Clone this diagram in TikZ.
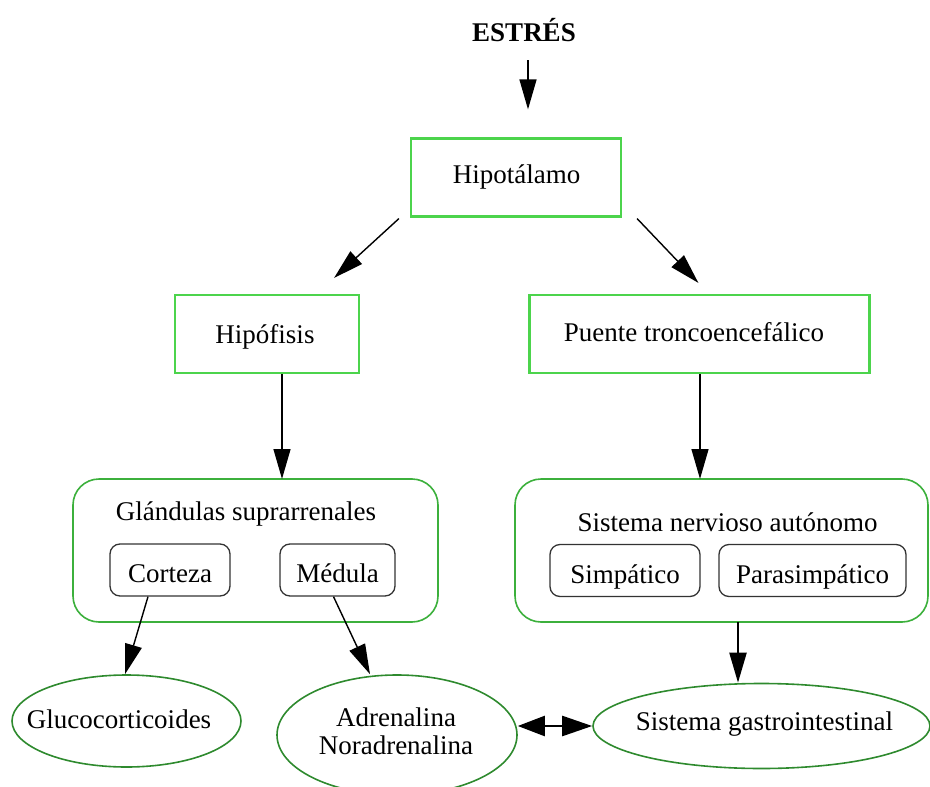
\documentclass[tikz,border=0pt]{standalone}
\usepackage{fontspec}
\setmainfont{Liberation Serif}
\usetikzlibrary{arrows.meta,shapes.geometric}
\definecolor{boxgreen}{HTML}{4CD44C}
\definecolor{groupgreen}{HTML}{3CB03C}
\definecolor{ovalgreen}{HTML}{2E8A2E}
\definecolor{innergray}{HTML}{333333}
\tikzset{
  lbl/.style={font=\fontsize{27}{28}\selectfont},
  squarebox/.style={draw=boxgreen, line width=2.2pt, minimum height=78pt, inner sep=0pt},
  groupbox/.style={draw=groupgreen, line width=1.6pt, rounded corners=26pt},
  subbox/.style={lbl, draw=innergray, line width=1.3pt, rounded corners=10pt, minimum height=52pt, inner sep=0pt, text height=27pt, text depth=2pt},
  oval/.style={ellipse, draw=ovalgreen, line width=1.6pt, inner sep=0pt},
  arr/.style={line width=1.4pt, -{Triangle[length=30pt,width=17pt]}},
  darr/.style={line width=2.4pt, {Triangle[length=27pt,width=20pt]}-{Triangle[length=30pt,width=20pt]}}
}
\begin{document}
\begin{tikzpicture}[x=1pt,y=-1pt]
\useasboundingbox (0,0) rectangle (930,787);

% title and top level
\node[font=\fontsize{27}{30}\selectfont\bfseries] (stress) at (524,30) {ESTRÉS};
\node[squarebox, minimum width=210pt] (hipo) at (516,177.5) {};
\node[lbl] (hipotext) at (516.5,177) {Hipotálamo};

% second level
\node[squarebox, minimum width=184pt] (hipof) at (267,334) {};
\node[lbl] (hipoftext) at (265,337) {Hipófisis};
\node[squarebox, minimum width=340pt] (puente) at (699.5,334) {};
\node[lbl] (puentetext) at (694,332) {Puente troncoencefálico};

% adrenal glands group
\draw[groupbox] (73,479) rectangle (438,622);
\node[lbl] (gland) at (246,514) {Glándulas suprarrenales};
\coordinate (glandtop) at (282,479);
\node[subbox, minimum width=120pt] (corteza) at (170,570) {Corteza};
\node[subbox, minimum width=115pt] (medula) at (337.5,570) {Médula};

% autonomic nervous system group
\draw[groupbox] (515,479) rectangle (928,622);
\node[lbl] (sna) at (727.5,522) {Sistema nervioso autónomo};
\coordinate (snatop) at (700,479);
\coordinate (snabot) at (738,622);
\node[subbox, minimum width=150pt] (simp) at (625,570.5) {Simpático};
\node[subbox, minimum width=187pt] (para) at (812.5,570.5) {Parasimpático};

% outputs
\node[oval, minimum width=229pt, minimum height=92pt] (gluco) at (126.5,721) {};
\node[lbl] (glucotext) at (119,719) {Glucocorticoides};
\node[oval, minimum width=240pt, minimum height=120pt] (adren) at (397,735) {};
\node[lbl, align=center] (adrentext) at (396,731) {Adrenalina\\Noradrenalina};
\node[oval, minimum width=337pt, minimum height=85pt] (gastro) at (761.5,726) {};
\node[lbl] (gastrotext) at (764.5,724) {Sistema gastrointestinal};

% connectors
\draw[arr] ([yshift=-15pt,xshift=4pt]stress.south) -- ([xshift=12pt,yshift=28pt]hipo.north);
\draw[arr] ([xshift=-11pt,yshift=-1pt]hipo.south west) -- ([xshift=-26pt,yshift=16pt]hipof.north east);
\draw[arr] ([xshift=15pt,yshift=-1pt]hipo.south east) -- ([xshift=170pt,yshift=11pt]puente.north west);
\draw[arr] ([xshift=15pt]hipof.south) -- (glandtop);
\draw[arr] ([xshift=0.5pt]puente.south) -- (snatop);
\draw[arr] ([xshift=-22pt]corteza.south) -- ([xshift=-1.5pt]gluco.north);
\draw[arr] ([xshift=-4pt]medula.south) -- ([xshift=-27pt]adren.north);
\draw[arr, line width=2.2pt] (snabot) -- (snabot |- gastro.north);
\draw[darr] (adren.east |- gastro.west) -- (gastro.west);
\end{tikzpicture}
\end{document}
